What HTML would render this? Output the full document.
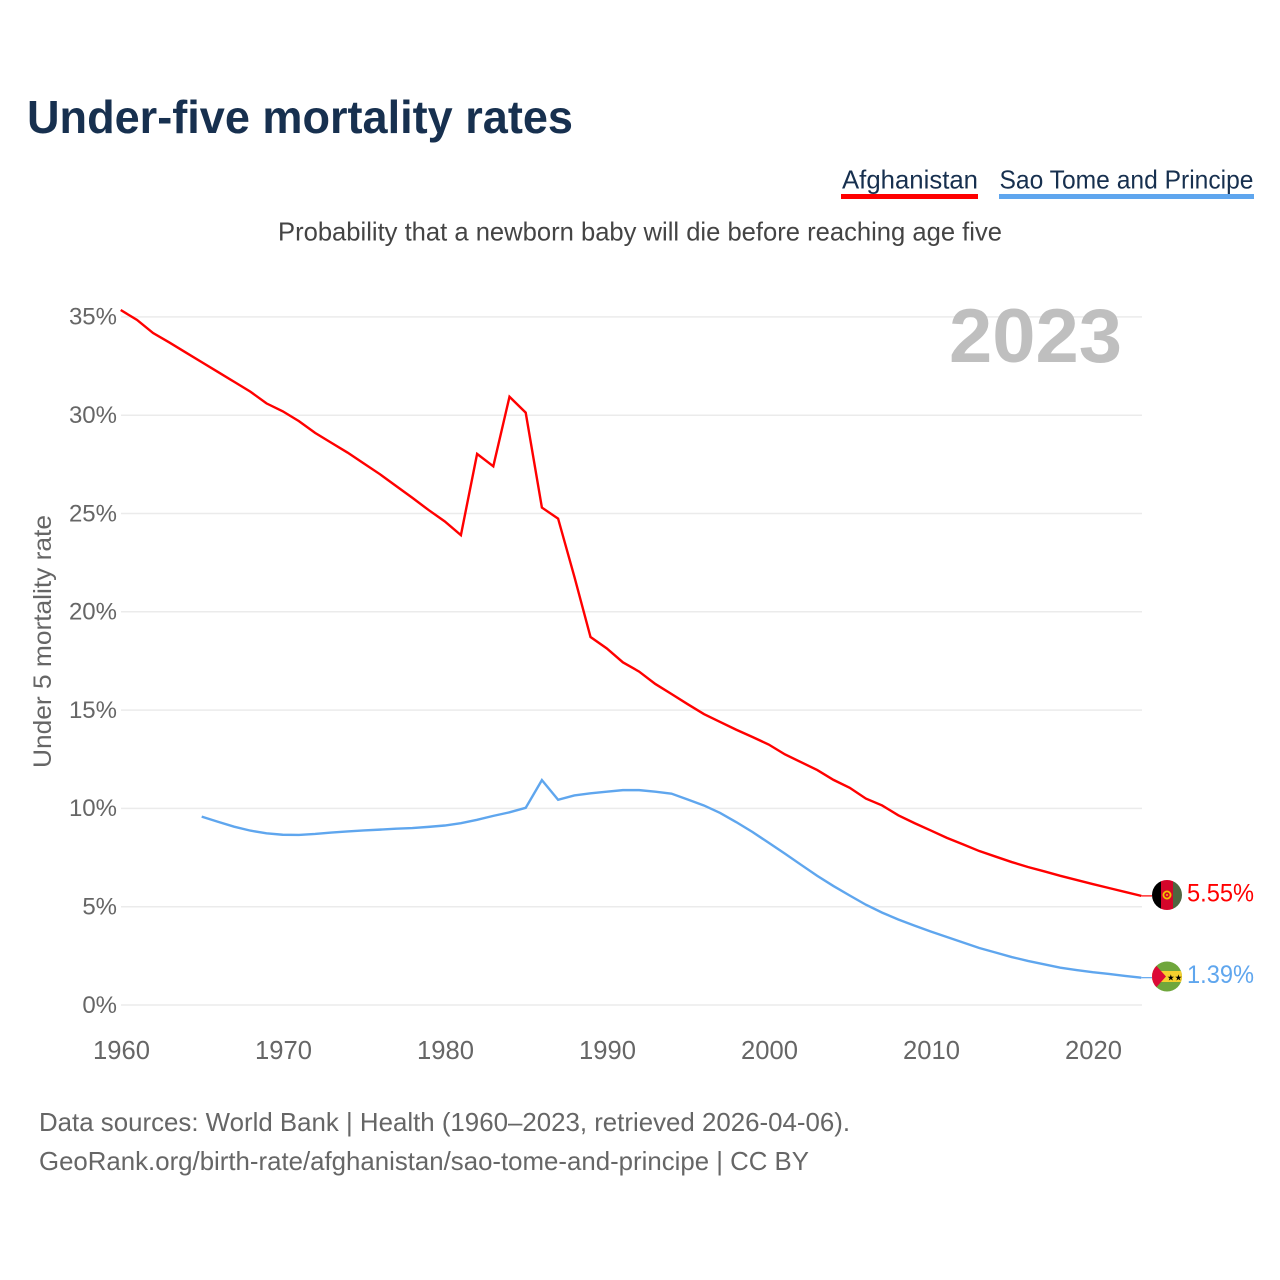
<!DOCTYPE html>
<html lang="en">
<head>
<meta charset="utf-8">
<title>Under-five mortality rates</title>
<style>
html,body{margin:0;padding:0;background:#fff;}
svg{display:block;font-family:"Liberation Sans",sans-serif;}
</style>
</head>
<body>
<svg id="chart" xmlns="http://www.w3.org/2000/svg" width="1280" height="1280" viewBox="0 0 1280 1280">
  <rect width="1280" height="1280" fill="#fff"/>
  <text x="27" y="133" font-size="46" font-weight="bold" fill="#17304f" textLength="546" lengthAdjust="spacingAndGlyphs">Under-five mortality rates</text>

  <g>
    <text x="842" y="188.5" font-size="26" fill="#17304f" textLength="136" lengthAdjust="spacingAndGlyphs">Afghanistan</text>
    <rect x="841" y="194" width="137" height="5" fill="#ff0000"/>
  </g>
  <g>
    <text x="999.5" y="188.5" font-size="26" fill="#17304f" textLength="254" lengthAdjust="spacingAndGlyphs">Sao Tome and Principe</text>
    <rect x="999" y="194" width="255" height="5" fill="#5fa6ee"/>
  </g>

  <text x="278" y="240.5" font-size="26" fill="#444" textLength="724" lengthAdjust="spacingAndGlyphs">Probability that a newborn baby will die before reaching age five</text>

  <g id="grid"></g>
  <text x="949" y="362" font-size="76" font-weight="bold" fill="#bfbfbf" textLength="173" lengthAdjust="spacingAndGlyphs">2023</text>
  <g id="yticks"></g>
  <g id="xticks"></g>
  <text transform="translate(51,768) rotate(-90)" x="0" y="0" font-size="25" fill="#666" textLength="253" lengthAdjust="spacingAndGlyphs">Under 5 mortality rate</text>

  <g id="series"></g>

  <defs>
    <clipPath id="clip-af"><circle cx="1167" cy="895" r="15"/></clipPath>
    <clipPath id="clip-st"><circle cx="1167" cy="976.5" r="15"/></clipPath>
  </defs>
  <g clip-path="url(#clip-af)">
    <rect x="1152" y="880" width="9" height="30" fill="#000"/>
    <rect x="1161" y="880" width="12" height="30" fill="#d4062a"/>
    <rect x="1173" y="880" width="9" height="30" fill="#4f6640"/>
    <circle cx="1167" cy="895" r="3.6" fill="none" stroke="#f2c200" stroke-width="1.8"/>
    <circle cx="1167" cy="895" r="1" fill="#f2c200"/>
  </g>
  <g clip-path="url(#clip-st)">
    <rect x="1152" y="961" width="30" height="31" fill="#6fa63c"/>
    <rect x="1152" y="971" width="30" height="11" fill="#f5d02e"/>
    <polygon points="1152,961 1166,976.5 1152,992" fill="#dc0a36"/>
    <text x="1167" y="980.5" font-size="8.5" fill="#000">★★</text>
  </g>
  <text id="end-af" x="1187" y="901.5" font-size="25" fill="#ff0000" textLength="67" lengthAdjust="spacingAndGlyphs"></text>
  <text id="end-st" x="1187" y="983" font-size="25" fill="#5fa6ee" textLength="67" lengthAdjust="spacingAndGlyphs"></text>

  <text x="39" y="1131" font-size="26" fill="#666" textLength="811" lengthAdjust="spacingAndGlyphs">Data sources: World Bank | Health (1960–2023, retrieved 2026-04-06).</text>
  <text x="39" y="1170" font-size="26" fill="#666" textLength="770" lengthAdjust="spacingAndGlyphs">GeoRank.org/birth-rate/afghanistan/sao-tome-and-principe | CC BY</text>
</svg>
<script>
const afghanistanStartYear = 1960;
const afghanistanValues = [35.35,34.85,34.18,33.7,33.2,32.7,32.2,31.7,31.2,30.6,30.2,29.7,29.1,28.6,28.1,27.55,27.0,26.4,25.8,25.18,24.6,23.9,28.03,27.4,30.94,30.13,25.3,24.74,21.8,18.72,18.14,17.43,16.96,16.33,15.82,15.3,14.8,14.4,14.0,13.63,13.25,12.75,12.35,11.95,11.45,11.05,10.5,10.15,9.65,9.25,8.88,8.5,8.17,7.83,7.55,7.27,7.02,6.8,6.57,6.36,6.15,5.95,5.75,5.55];
const saoTomeStartYear = 1965;
const saoTomeValues = [9.58,9.32,9.07,8.87,8.73,8.66,8.65,8.7,8.77,8.83,8.88,8.92,8.97,9.0,9.06,9.13,9.25,9.42,9.62,9.8,10.03,11.44,10.44,10.66,10.77,10.85,10.93,10.93,10.85,10.75,10.45,10.15,9.77,9.3,8.8,8.25,7.7,7.13,6.57,6.05,5.57,5.1,4.7,4.35,4.04,3.74,3.46,3.18,2.9,2.67,2.44,2.24,2.07,1.9,1.78,1.67,1.58,1.48,1.39];
const yTickValues = [0,5,10,15,20,25,30,35];
const xTickYears = [1960,1970,1980,1990,2000,2010,2020];

const SVG_NS = 'http://www.w3.org/2000/svg';
function xScale(year){ return 120.7 + (year - 1960) * 16.2; }
function yScale(v){ return 1005 - v * 19.66; }

const gridGroup = document.getElementById('grid');
const yGroup = document.getElementById('yticks');
const xGroup = document.getElementById('xticks');
const seriesGroup = document.getElementById('series');

yTickValues.forEach(function(v){
  const line = document.createElementNS(SVG_NS, 'line');
  
  
  line.setAttribute('x1', 121);
  line.setAttribute('x2', 1142);
  line.setAttribute('y1', yScale(v));
  line.setAttribute('y2', yScale(v));
  line.setAttribute('stroke', '#ebebeb');
  line.setAttribute('stroke-width', '1.5');
  gridGroup.appendChild(line);

  const label = document.createElementNS(SVG_NS, 'text');
  
  
  label.setAttribute('x', 117);
  label.setAttribute('y', yScale(v) + 7.8);
  label.setAttribute('text-anchor', 'end');
  label.setAttribute('font-size', '24');
  label.setAttribute('fill', '#666');
  label.textContent = v + '%';
  yGroup.appendChild(label);
});

xTickYears.forEach(function(year){
  const label = document.createElementNS(SVG_NS, 'text');
  
  
  label.setAttribute('x', xScale(year) + 0.8);
  label.setAttribute('y', 1059);
  label.setAttribute('text-anchor', 'middle');
  label.setAttribute('font-size', '25.6');
  label.setAttribute('fill', '#666');
  label.textContent = year;
  xGroup.appendChild(label);
});

function linePoints(startYear, values){
  return values.map(function(v, i){
    return xScale(startYear + i).toFixed(2) + ',' + yScale(v).toFixed(2);
  }).join(' ');
}

const afLine = document.createElementNS(SVG_NS, 'polyline');


afLine.setAttribute('points', linePoints(afghanistanStartYear, afghanistanValues));
afLine.setAttribute('fill', 'none');
afLine.setAttribute('stroke', '#ff0000');
afLine.setAttribute('stroke-width', '2.4');
seriesGroup.appendChild(afLine);

const stLine = document.createElementNS(SVG_NS, 'polyline');


stLine.setAttribute('points', linePoints(saoTomeStartYear, saoTomeValues));
stLine.setAttribute('fill', 'none');
stLine.setAttribute('stroke', '#5fa6ee');
stLine.setAttribute('stroke-width', '2.4');
seriesGroup.appendChild(stLine);

const afLast = afghanistanValues[afghanistanValues.length - 1];
const stLast = saoTomeValues[saoTomeValues.length - 1];

const afLead = document.createElementNS(SVG_NS, 'line');


afLead.setAttribute('x1', xScale(2023));
afLead.setAttribute('x2', 1152);
afLead.setAttribute('y1', yScale(afLast));
afLead.setAttribute('y2', yScale(afLast));
afLead.setAttribute('stroke', '#ff0000');
afLead.setAttribute('stroke-width', '1.2');
seriesGroup.appendChild(afLead);

const stLead = document.createElementNS(SVG_NS, 'line');


stLead.setAttribute('x1', xScale(2023));
stLead.setAttribute('x2', 1152);
stLead.setAttribute('y1', yScale(stLast));
stLead.setAttribute('y2', yScale(stLast));
stLead.setAttribute('stroke', '#5fa6ee');
stLead.setAttribute('stroke-width', '1.2');
seriesGroup.appendChild(stLead);

document.getElementById('end-af').textContent = afLast.toFixed(2) + '%';
document.getElementById('end-st').textContent = stLast.toFixed(2) + '%';
</script>
</body>
</html>
